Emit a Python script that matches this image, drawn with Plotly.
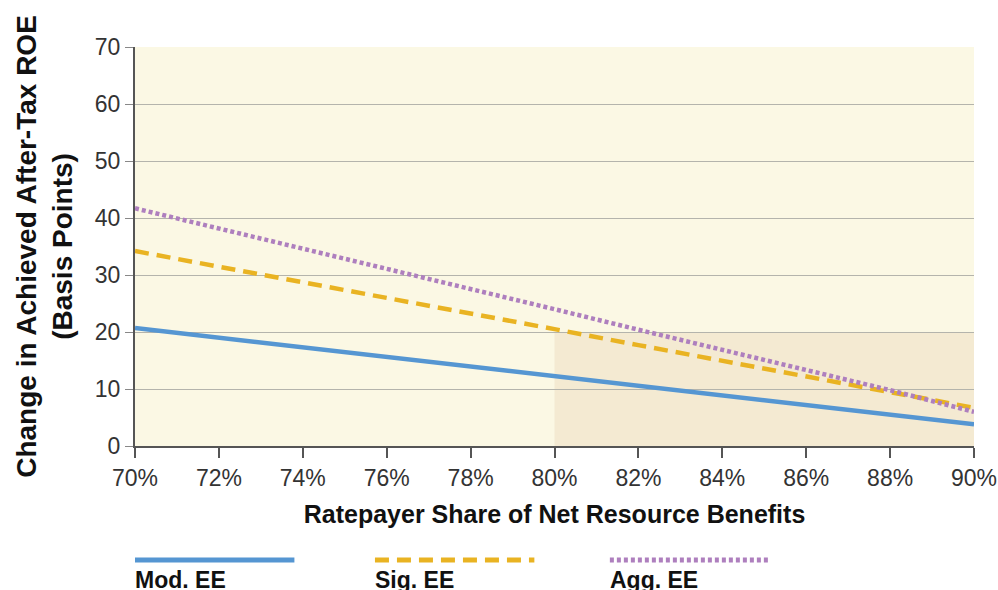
import plotly.graph_objects as go

share = [70, 72, 74, 76, 78, 80, 82, 84, 86, 88, 90]
mod_ee = [20.7, 19.0, 17.3, 15.6, 14.0, 12.3, 10.6, 8.9, 7.2, 5.5, 3.8]
sig_ee = [34.2, 31.5, 28.7, 26.0, 23.2, 20.5, 17.7, 15.0, 12.2, 9.5, 6.7]
agg_ee = [41.7, 38.2, 34.6, 31.1, 27.5, 24.0, 20.4, 16.9, 13.3, 9.8, 6.0]

x_ticks = [70, 72, 74, 76, 78, 80, 82, 84, 86, 88, 90]
x_tick_labels = ["70%", "72%", "74%", "76%", "78%", "80%", "82%", "84%", "86%", "88%", "90%"]
y_ticks = [0, 10, 20, 30, 40, 50, 60, 70]

series_names = ["Mod. EE", "Sig. EE", "Agg. EE"]
colors = ["#5596d2", "#e9b322", "#ae7fbe"]
dashes = ["solid", "14px,8px", "4px,3px"]

FONT = "Liberation Sans, Arial, Helvetica, sans-serif"

fig = go.Figure()
for name, vals, c, d in zip(series_names, [mod_ee, sig_ee, agg_ee], colors, dashes):
    fig.add_trace(go.Scatter(x=share, y=vals, mode="lines", name=name,
                             line=dict(color=c, width=4.5, dash=d), showlegend=False))

# highlighted region
fig.add_shape(type="rect", xref="x", yref="y", x0=80, x1=90, y0=0, y1=20,
              fillcolor="#f4ead2", line=dict(width=0), layer="below")

# manual legend: sample line above bold label
leg_x = [0.0, 0.286, 0.566]
for i, (name, c, d) in enumerate(zip(series_names, colors, dashes)):
    x0 = leg_x[i]
    fig.add_shape(type="line", xref="paper", yref="paper", x0=x0, x1=x0 + 0.19,
                  y0=-0.286, y1=-0.286, line=dict(color=c, width=5, dash=d))
    fig.add_annotation(xref="paper", yref="paper", x=x0, y=-0.298, xanchor="left", yanchor="top",
                       xshift=-2, text="<b>%s</b>" % name, showarrow=False,
                       font=dict(family=FONT, size=23, color="#111"))

fig.update_layout(
    width=998, height=590,
    margin=dict(l=135, r=24, t=47, b=144),
    paper_bgcolor="white",
    plot_bgcolor="#fbf8e4",
    font=dict(family=FONT, color="#333"),
)
fig.update_xaxes(range=[70, 90], tickvals=x_ticks, ticktext=x_tick_labels,
                 automargin=False, ticklabeloverflow="allow",
                 showgrid=False, zeroline=False,
                 showline=True, linecolor="#555", linewidth=2,
                 ticks="outside", ticklen=10, tickwidth=2, tickcolor="#555",
                 tickfont=dict(size=23, color="#333"),
                 title=dict(text="<b>Ratepayer Share of Net Resource Benefits</b>",
                            font=dict(size=25, color="#111"), standoff=16))
fig.update_yaxes(range=[0, 70], tickvals=y_ticks,
                 automargin=False, ticklabeloverflow="allow",
                 showgrid=True, gridcolor="#b4b4ac", gridwidth=1, zeroline=False,
                 showline=True, linecolor="#555", linewidth=2,
                 ticks="outside", ticklen=8, tickwidth=1, tickcolor="#888",
                 tickfont=dict(size=23, color="#333"),
                 title=dict(text="<b>Change in Achieved After-Tax ROE<br>(Basis Points)</b>",
                            font=dict(size=28, color="#111"), standoff=14))

fig.write_html(
    "out.html",
    config={"displayModeBar": False},
    post_script="document.body.style.margin='0';document.documentElement.style.overflow='hidden';",
)
